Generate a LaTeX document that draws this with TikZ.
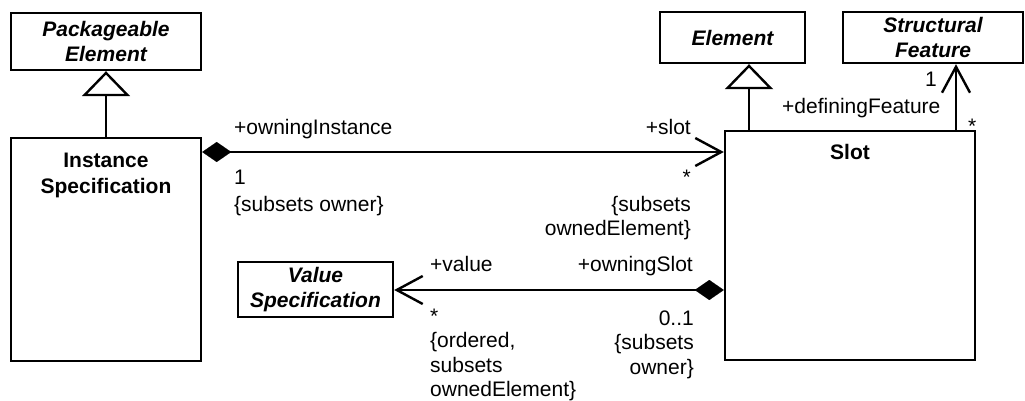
\documentclass[tikz,border=0pt]{standalone}
\usepackage{fontspec}
\setmainfont{Liberation Sans}
\usetikzlibrary{arrows.meta}
\begin{document}
\begin{tikzpicture}[x=1pt,y=-1pt,
  font=\fontsize{21}{24.5}\selectfont,
  cls/.style={draw,line width=2.4pt,inner sep=0pt,align=center},
  abs/.style={cls,font=\fontsize{21}{24.5}\selectfont\bfseries\itshape},
  lbl/.style={inner sep=0pt},
  conn/.style={line width=2.4pt},
  gen/.style={conn,-{Triangle[open,length=25pt,width=48pt,fill=white,line width=2.4pt]}},
  nav/.style={conn,-{Straight Barb[length=26pt,width=28pt,line width=2.4pt]}},
  comp/.style={conn,{Diamond[length=29pt,width=20pt,line width=0.1pt]}-{Straight Barb[length=26pt,width=28pt,line width=2.4pt]}}
]
\useasboundingbox (0,0) rectangle (1025,401);

% classes
\node[abs,minimum width=190pt,minimum height=57pt] (PE) at (106,41.5) {Packageable\\Element};
\node[cls,minimum width=190pt,minimum height=223pt] (IS) at (106,249.5) {};
\node[lbl,anchor=base,font=\fontsize{21}{25.5}\selectfont\bfseries,align=center] (IStxt) at (106,193) {Instance\\Specification};
\node[abs,minimum width=145pt,minimum height=51pt] (E) at (732.5,37.5) {Element};
\node[abs,minimum width=180pt,minimum height=51pt] (SF) at (933,37.5) {Structural\\Feature};
\node[cls,minimum width=250pt,minimum height=229pt] (Slot) at (850,245.5) {};
\node[lbl,anchor=base,font=\fontsize{21}{24.5}\selectfont\bfseries] (Slottxt) at (850,159) {Slot};
\node[abs,minimum width=155pt,minimum height=55pt] (VS) at (315.5,289.5) {Value\\Specification};

% generalizations
\draw[gen] (IS.north) -- (PE.south);
\draw[gen] (Slot.north -| 749,0) -- (E.south -| 749,0);

% associations
\draw[nav] (Slot.north -| 956,0) -- (SF.south -| 956,0);
\draw[comp] (IS.east |- 0,152) -- (Slot.west |- 0,152);
\draw[comp] (Slot.west |- 0,290) -- (VS.east |- 0,290);

% labels: IS -- Slot
\node[lbl,anchor=base west] (l1) at (234,134.5) {+owningInstance};
\node[lbl,anchor=base west] (l2) at (234,184.5) {1};
\node[lbl,anchor=base west] (l3) at (234,211.5) {\{subsets owner\}};
\node[lbl,anchor=base east] (l4) at (691,134.5) {+slot};
\node[lbl,anchor=base east] (l5) at (691,184.5) {*};
\node[lbl,anchor=base east,align=right] (l6) at (691,235.5) {\{subsets\\ownedElement\}};

% labels: Slot -- SF
\node[lbl,anchor=base east] (l7) at (937,86.5) {1};
\node[lbl,anchor=base west] (l8) at (782,114) {+definingFeature};
\node[lbl,anchor=base west] (l9) at (968,134) {*};

% labels: Slot -- VS
\node[lbl,anchor=base west] (l10) at (430,271.5) {+value};
\node[lbl,anchor=base east] (l11) at (693,271.5) {+owningSlot};
\node[lbl,anchor=base west,align=left] (l12) at (430,396.5) {*\\\{ordered,\\subsets\\ownedElement\}};
\node[lbl,anchor=base east,align=right] (l13) at (694,374) {0..1\\\{subsets\\owner\}};
\end{tikzpicture}
\end{document}
